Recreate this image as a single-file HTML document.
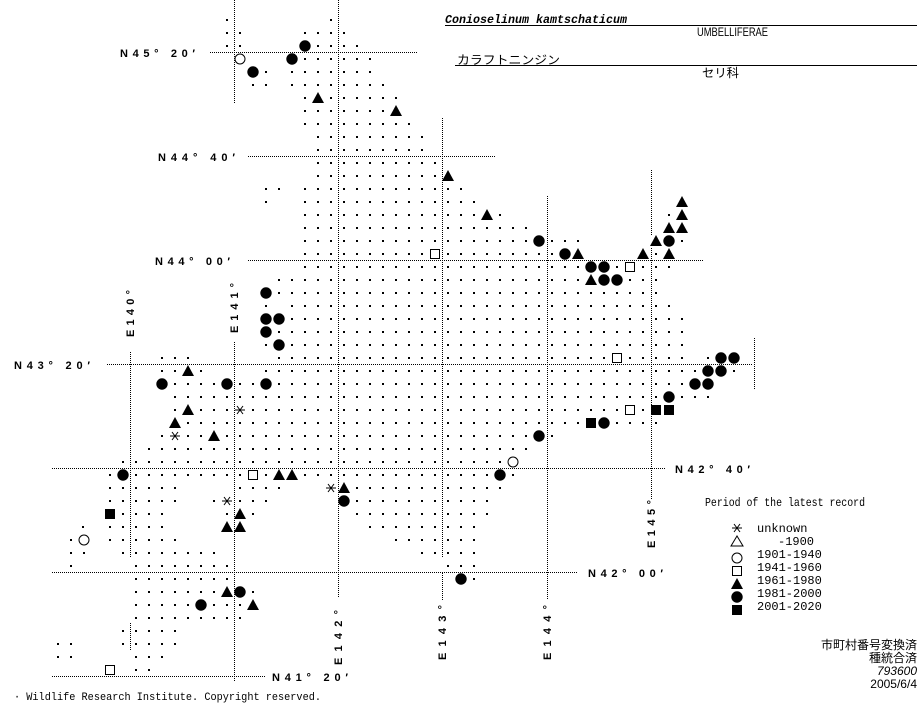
<!DOCTYPE html>
<html><head><meta charset="utf-8"><style>
html,body{margin:0;padding:0;background:#fff;width:923px;height:703px;overflow:hidden}
svg{display:block}
.lb{font-family:"Liberation Sans",sans-serif;font-weight:bold;font-size:11px}
.m{font-family:"Liberation Mono",monospace;font-size:12px}
.j{font-family:"Liberation Sans","Noto Sans CJK JP",sans-serif;font-size:12px}
</style></head><body>
<svg id="s" width="923" height="703" viewBox="0 0 923 703" xmlns="http://www.w3.org/2000/svg">
<g stroke="#000" stroke-width="1" stroke-dasharray="1 1" fill="none" shape-rendering="crispEdges">
<line x1="210" y1="52.5" x2="417" y2="52.5"/>
<line x1="248" y1="156.5" x2="495" y2="156.5"/>
<line x1="248" y1="260.5" x2="703" y2="260.5"/>
<line x1="107" y1="364.5" x2="753" y2="364.5"/>
<line x1="52" y1="468.5" x2="665" y2="468.5"/>
<line x1="52" y1="572.5" x2="578" y2="572.5"/>
<line x1="52" y1="676.5" x2="265" y2="676.5"/>
<line x1="130.5" y1="352" x2="130.5" y2="558"/>
<line x1="130.5" y1="623" x2="130.5" y2="650"/>
<line x1="234.5" y1="0" x2="234.5" y2="104"/>
<line x1="234.5" y1="342" x2="234.5" y2="682"/>
<line x1="338.5" y1="0" x2="338.5" y2="598"/>
<line x1="442.5" y1="118" x2="442.5" y2="557"/>
<line x1="442.5" y1="573" x2="442.5" y2="600"/>
<line x1="547.5" y1="196" x2="547.5" y2="600"/>
<line x1="651.5" y1="170" x2="651.5" y2="235"/>
<line x1="651.5" y1="248" x2="651.5" y2="500"/>
<line x1="754.5" y1="338" x2="754.5" y2="390"/>
</g>
<g id="dots" fill="#000"></g>
<g id="mk"></g>
<g class="lb" fill="#000">
<text x="120" y="57" textLength="75" lengthAdjust="spacing">N45° 20′</text>
<text x="158" y="161" textLength="77" lengthAdjust="spacing">N44° 40′</text>
<text x="155" y="265" textLength="75" lengthAdjust="spacing">N44° 00′</text>
<text x="14" y="369" textLength="76" lengthAdjust="spacing">N43° 20′</text>
<text x="675" y="473" textLength="75" lengthAdjust="spacing">N42° 40′</text>
<text x="588" y="577" textLength="75" lengthAdjust="spacing">N42° 00′</text>
<text x="272" y="681" textLength="76" lengthAdjust="spacing">N41° 20′</text>
<text transform="translate(134,337) rotate(-90)" textLength="47" lengthAdjust="spacing">E140°</text>
<text transform="translate(238,333) rotate(-90)" textLength="50" lengthAdjust="spacing">E141°</text>
<text transform="translate(342,665) rotate(-90)" textLength="55" lengthAdjust="spacing">E142°</text>
<text transform="translate(446,660) rotate(-90)" textLength="55" lengthAdjust="spacing">E143°</text>
<text transform="translate(551,660) rotate(-90)" textLength="55" lengthAdjust="spacing">E144°</text>
<text transform="translate(655,548) rotate(-90)" textLength="48" lengthAdjust="spacing">E145°</text>
</g>
<text x="445" y="23" font-family="Liberation Mono,monospace" font-style="italic" font-weight="bold" font-size="12" textLength="182" lengthAdjust="spacingAndGlyphs">Conioselinum kamtschaticum</text>
<line x1="445" y1="25.5" x2="917" y2="25.5" stroke="#000"/>
<text x="697" y="36" class="j" font-size="11" textLength="71" lengthAdjust="spacingAndGlyphs">UMBELLIFERAE</text>
<text x="457" y="64" class="j" font-size="13" textLength="103" lengthAdjust="spacingAndGlyphs">カラフトニンジン</text>
<line x1="455" y1="65.5" x2="917" y2="65.5" stroke="#000"/>
<text x="702" y="77" class="j" textLength="37" lengthAdjust="spacingAndGlyphs">セリ科</text>
<text x="705" y="506" class="m" textLength="160" lengthAdjust="spacingAndGlyphs">Period of the latest record</text>
<g class="m" fill="#000">
<text x="757" y="532">unknown</text>
<text x="778" y="545">-1900</text>
<text x="757" y="558">1901-1940</text>
<text x="757" y="571">1941-1960</text>
<text x="757" y="584">1961-1980</text>
<text x="757" y="597">1981-2000</text>
<text x="757" y="610">2001-2020</text>
</g>
<g class="j" text-anchor="end" fill="#000">
<text x="917" y="649">市町村番号変換済</text>
<text x="917" y="662">種統合済</text>
<text x="917" y="675" font-style="italic">793600</text>
<text x="917" y="688">2005/6/4</text>
</g>
<text x="14" y="700" font-family="Liberation Mono,monospace" font-size="11" textLength="307" lengthAdjust="spacingAndGlyphs">· Wildlife Research Institute. Copyright reserved.</text>
</svg>
<script>
var R={20:[[227],[331]],33:[[227,240],[305,344]],46:[[227,240],[305,357]],59:[[240],[292,370]],72:[[253,266],[292,370]],85:[[253,266],[292,383]],98:[[305,396]],111:[[305,396]],124:[[305,409]],137:[[318,422]],150:[[318,422]],163:[[318,435]],176:[[318,448]],189:[[266,279],[305,461]],202:[[266],[305,474],[682]],215:[[305,500],[669,682]],228:[[305,526],[669,682]],241:[[305,578],[656,682]],254:[[305,578],[643,669]],267:[[305,669]],280:[[279,656]],293:[[266,656]],306:[[266],[292,669]],319:[[266,682]],332:[[266,682]],345:[[266,682]],358:[[162,188],[279,682],[708,734]],371:[[162,201],[266,734]],384:[[162,708]],397:[[175,708]],410:[[175,669]],423:[[175,656]],436:[[162,552]],449:[[149,526]],462:[[123,513]],475:[[110,513]],488:[[110,175],[240,279],[331,500]],501:[[110,175],[214,266],[344,487]],514:[[110,162],[227,253],[357,487]],527:[[83],[110,162],[227,240],[370,474]],540:[[71,84],[110,175],[396,474]],553:[[71,84],[123,214],[422,474]],566:[[71],[136,227],[448,474]],579:[[136,227],[461,474]],592:[[136,253]],605:[[136,253]],618:[[136,240]],631:[[123,175]],644:[[58,71],[123,175]],657:[[58,71],[136,162]],670:[[110],[136,149]]};
var h='';
for(var y in R){R[y].forEach(function(r){var a=r[0],b=r.length>1?r[1]:r[0];for(var x=a;x<=b;x+=13)h+='<rect x="'+(x-1)+'" y="'+(y-1)+'" width="2" height="2"/>';});}
document.getElementById('dots').innerHTML=h;
var L=737;
var C=[[305,46],[292,59],[253,72],[539,241],[565,254],[591,267],[604,267],[604,280],[617,280],[669,241],[266,293],[266,319],[279,319],[266,332],[279,345],[721,358],[734,358],[708,371],[721,371],[695,384],[708,384],[669,397],[604,423],[539,436],[162,384],[227,384],[266,384],[500,475],[123,475],[344,501],[461,579],[240,592],[201,605],[L,597]];
var O=[[240,59],[513,462],[84,540],[L,558]];
var Q=[[435,254],[630,267],[617,358],[630,410],[253,475],[110,670],[L,571]];
var F=[[656,410],[669,410],[591,423],[110,514],[L,610]];
var T=[[318,98],[396,111],[448,176],[487,215],[682,202],[682,215],[669,228],[682,228],[656,241],[578,254],[643,254],[669,254],[591,280],[188,371],[188,410],[175,423],[214,436],[279,475],[292,475],[344,488],[240,514],[227,527],[240,527],[227,592],[253,605],[L,584]];
var A=[[240,410],[175,436],[331,488],[227,501],[L,528]];
var m='';
C.forEach(function(p){m+='<circle cx="'+p[0]+'" cy="'+p[1]+'" r="5.7" fill="#000"/>';});
O.forEach(function(p){m+='<circle cx="'+p[0]+'" cy="'+p[1]+'" r="5" fill="#fff" stroke="#000"/>';});
Q.forEach(function(p){m+='<rect x="'+(p[0]-4.5)+'" y="'+(p[1]-4.5)+'" width="9" height="9" fill="#fff" stroke="#000"/>';});
F.forEach(function(p){m+='<rect x="'+(p[0]-5)+'" y="'+(p[1]-5)+'" width="10" height="10" fill="#000"/>';});
T.forEach(function(p){m+='<polygon points="'+(p[0]-6)+','+(p[1]+5)+' '+(p[0]+6)+','+(p[1]+5)+' '+p[0]+','+(p[1]-6)+'" fill="#000"/>';});
A.forEach(function(p){var x=p[0],y=p[1];m+='<g stroke="#000" stroke-width="1"><line x1="'+(x-5)+'" y1="'+y+'" x2="'+(x+5)+'" y2="'+y+'"/><line x1="'+(x-3)+'" y1="'+(y-4)+'" x2="'+(x+3)+'" y2="'+(y+4)+'"/><line x1="'+(x+3)+'" y1="'+(y-4)+'" x2="'+(x-3)+'" y2="'+(y+4)+'"/></g>';});
m+='<polygon points="'+(L-6)+',546 '+(L+6)+',546 '+L+',536" fill="#fff" stroke="#000"/>';
document.getElementById('mk').innerHTML=m;
</script>
</body></html>
